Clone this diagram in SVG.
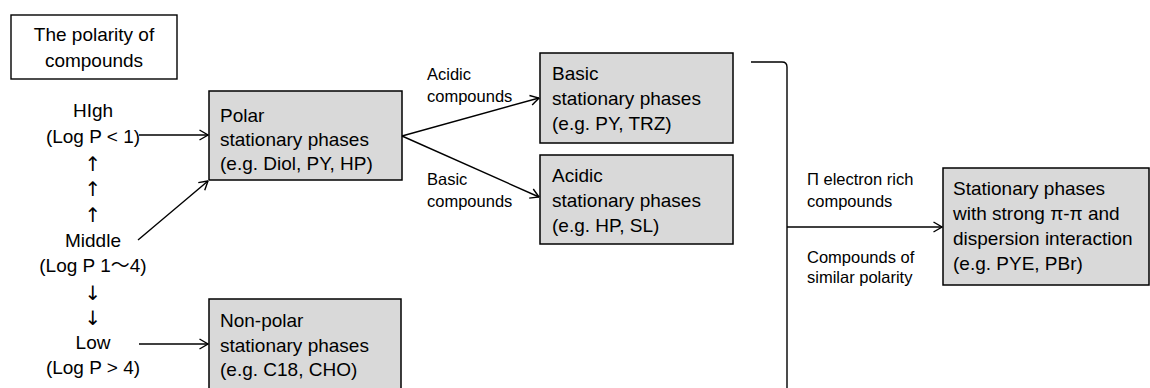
<svg xmlns="http://www.w3.org/2000/svg" width="1150" height="388" viewBox="0 0 1150 388">
<defs>
<style>
text{font-family:"Liberation Sans","Noto Sans CJK JP",sans-serif;fill:#000}
.t{font-size:19px}
.c{font-size:19px;text-anchor:middle}
.a{font-family:"DejaVu Sans",sans-serif;font-size:20px;text-anchor:middle;fill:#000}
.s{font-size:16.5px}
.box{fill:#d9d9d9;stroke:#000;stroke-width:1.5}
.wbox{fill:#fff;stroke:#000;stroke-width:1.4}
.ln{fill:none;stroke:#000;stroke-width:1.4}
</style>
<marker id="ah" viewBox="0 0 10 12" refX="9.5" refY="6" markerWidth="10" markerHeight="12" markerUnits="userSpaceOnUse" orient="auto">
<path d="M1 1 L9.5 6 L1 11" fill="none" stroke="#000" stroke-width="1.4"/>
</marker>
</defs>
<rect width="1150" height="388" fill="#fff"/>

<g id="title">
<rect class="wbox" x="11" y="15" width="166" height="64"/>
<text class="c" x="94" y="41">The polarity of</text>
<text class="c" x="94" y="67">compounds</text>
</g>

<g id="scale">
<text class="c" x="93" y="117">HIgh</text>
<text class="c" x="93" y="143">(Log P &lt; 1)</text>
<text class="a" x="93" y="171">↑</text>
<text class="a" x="93" y="196">↑</text>
<text class="a" x="93" y="222">↑</text>
<text class="c" x="93" y="247">Middle</text>
<text class="c" x="93" y="272">(Log P 1〜4)</text>
<text class="a" x="93" y="300">↓</text>
<text class="a" x="93" y="325">↓</text>
<text class="c" x="93" y="349">Low</text>
<text class="c" x="93" y="374">(Log P &gt; 4)</text>
</g>

<g id="polar">
<rect class="box" x="209" y="91" width="193" height="89"/>
<text class="t" x="220" y="122">Polar</text>
<text class="t" x="220" y="146">stationary phases</text>
<text class="t" x="220" y="170">(e.g. Diol, PY, HP)</text>
</g>

<g id="nonpolar">
<rect class="box" x="209" y="299" width="192" height="95"/>
<text class="t" x="220" y="327">Non-polar</text>
<text class="t" x="220" y="352">stationary phases</text>
<text class="t" x="220" y="376">(e.g. C18, CHO)</text>
</g>

<g id="basic">
<rect class="box" x="540" y="53" width="193" height="90"/>
<text class="t" x="552" y="80">Basic</text>
<text class="t" x="552" y="105">stationary phases</text>
<text class="t" x="552" y="130">(e.g. PY, TRZ)</text>
</g>

<g id="acidic">
<rect class="box" x="540" y="155" width="193" height="89"/>
<text class="t" x="552" y="182">Acidic</text>
<text class="t" x="552" y="207">stationary phases</text>
<text class="t" x="552" y="232">(e.g. HP, SL)</text>
</g>

<g id="pipi">
<rect class="box" x="943" y="168" width="206" height="117"/>
<text class="t" x="953" y="195">Stationary phases</text>
<text class="t" x="953" y="220">with strong π-π and</text>
<text class="t" x="953" y="245">dispersion interaction</text>
<text class="t" x="953" y="270">(e.g. PYE, PBr)</text>
</g>

<g id="connectors">
<line class="ln" x1="139" y1="135" x2="208" y2="135" marker-end="url(#ah)"/>
<line class="ln" x1="138" y1="240" x2="208" y2="181" marker-end="url(#ah)"/>
<line class="ln" x1="139" y1="344" x2="208" y2="344" marker-end="url(#ah)"/>
<line class="ln" x1="402" y1="136" x2="539" y2="98" marker-end="url(#ah)"/>
<line class="ln" x1="402" y1="136" x2="539" y2="197" marker-end="url(#ah)"/>
<path class="ln" d="M751 62 L782 62 Q787 62 787 67 L787 392"/>
<line class="ln" x1="787" y1="227" x2="942" y2="227" marker-end="url(#ah)"/>
<text class="s" x="427" y="80">Acidic</text>
<text class="s" x="427" y="102">compounds</text>
<text class="s" x="427" y="185">Basic</text>
<text class="s" x="427" y="207">compounds</text>
<text class="s" x="807" y="185">Π electron rich</text>
<text class="s" x="807" y="207">compounds</text>
<text class="s" x="807" y="263">Compounds of</text>
<text class="s" x="807" y="283">similar polarity</text>
</g>
</svg>
